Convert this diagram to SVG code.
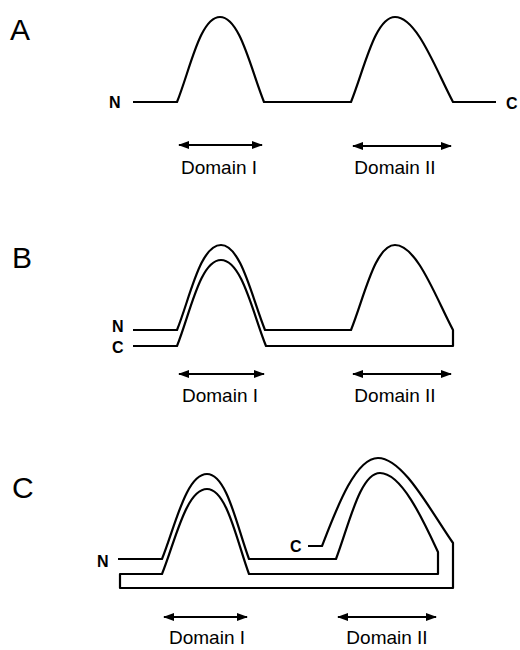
<svg xmlns="http://www.w3.org/2000/svg" width="520" height="650" viewBox="0 0 520 650">
<style>
.s{fill:none;stroke:#000;stroke-width:2.2;stroke-linejoin:round;stroke-linecap:butt}
.ar{fill:none;stroke:#000;stroke-width:2;marker-start:url(#ah);marker-end:url(#ah)}
.pl{font-family:"Liberation Sans",Arial,sans-serif;font-size:30px;fill:#000}
.t{font-family:"Liberation Sans",Arial,sans-serif;font-size:16px;font-weight:bold;fill:#000}
.d{font-family:"Liberation Sans",Arial,sans-serif;font-size:19px;fill:#000;text-anchor:middle}
</style>
<defs>
<marker id="ah" markerUnits="userSpaceOnUse" markerWidth="11" markerHeight="10" refX="10" refY="5" orient="auto-start-reverse">
<path d="M0,1 L11,5 L0,9 z" fill="#000"/>
</marker>
</defs>
<rect width="520" height="650" fill="#fff"/>

<g id="panelA">
<text class="pl" x="10" y="40">A</text>
<text class="t" x="109" y="108">N</text>
<text class="t" x="506" y="109">C</text>
<path class="s" d="M133,102 L177,102 C190,70 200,17 220,17 C240,17 251,70 264,102 L351,102 C364,70 375,17 395,17 C417,17 436,70 453,102 L496,102"/>
<path class="ar" d="M179,145 L262,145"/>
<path class="ar" d="M353,146 L451,146"/>
<text class="d" x="219" y="174">Domain I</text>
<text class="d" x="395" y="174">Domain II</text>
</g>

<g id="panelB">
<text class="pl" x="12" y="268">B</text>
<text class="t" x="112" y="332">N</text>
<text class="t" x="112" y="353">C</text>
<path class="s" d="M133,330 L177,330 C190,298 200,245 221,245 C241,245 252,298 265,330 L351,330 C364,298 375,245 395,245 C417,245 436,298 453,330 L453,346 L266,346 C253,314 242,260 221,260 C200,260 190,314 177,346 L133,346"/>
<path class="ar" d="M179,374 L264,374"/>
<path class="ar" d="M353,374 L451,374"/>
<text class="d" x="220" y="402">Domain I</text>
<text class="d" x="395" y="402">Domain II</text>
</g>

<g id="panelC">
<text class="pl" x="12" y="498">C</text>
<text class="t" x="97" y="567">N</text>
<text class="t" x="290" y="552">C</text>
<path class="s" d="M118,559 L162,559 C175,527 186,474 207,474 C227,474 237,527 249,559 L336,559 C349,525 360,473 380,473 C402,473 424,522 438,552 L438,574 L249,574 C237,542 227,489 207,489 C186,489 175,542 162,574 L120,574 L120,588 L453,588 L453,543 C430,510 403,458 378,458 C355,458 336,510 322,546 L308,546"/>
<path class="ar" d="M164,617 L247,617"/>
<path class="ar" d="M338,617 L436,617"/>
<text class="d" x="207" y="644">Domain I</text>
<text class="d" x="387" y="644">Domain II</text>
</g>
</svg>
